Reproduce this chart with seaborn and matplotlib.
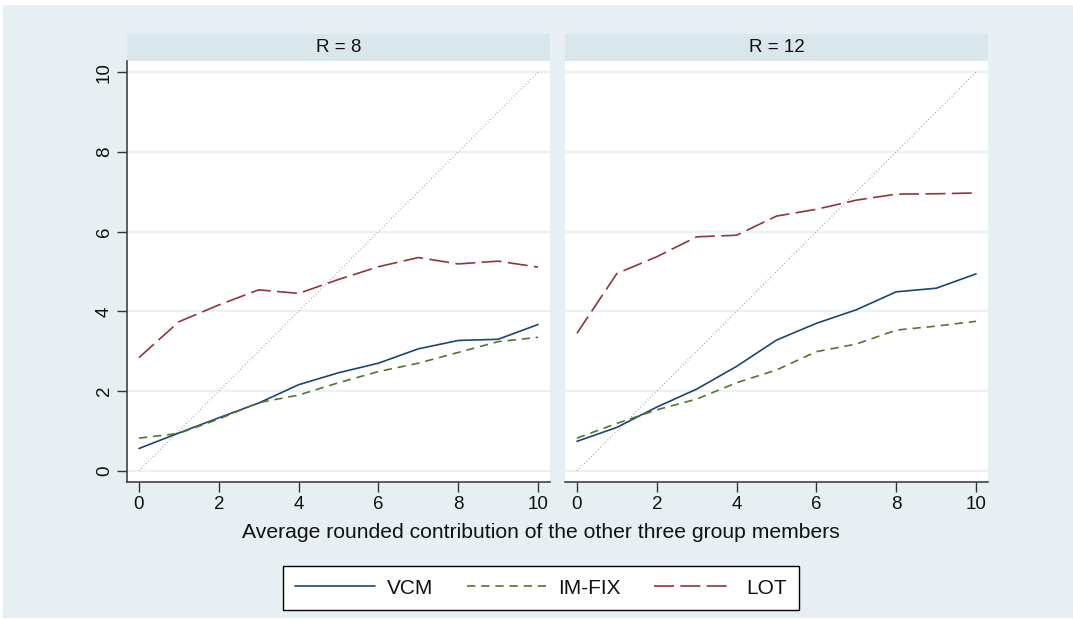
import numpy as np
import pandas as pd
import matplotlib
matplotlib.use("Agg")
import matplotlib.pyplot as plt
from matplotlib.patches import Rectangle
from matplotlib.lines import Line2D
import seaborn as sns

# ==============================
# DATA
# ==============================

contrib = [0, 1, 2, 3, 4, 5, 6, 7, 8, 9, 10]
panels = ["R = 8", "R = 12"]
treatments = ["VCM", "IM-FIX", "LOT"]

vcm_r8 = [0.56, 0.95, 1.33, 1.70, 2.16, 2.46, 2.70, 3.06, 3.27, 3.30, 3.67]
imfix_r8 = [0.82, 0.94, 1.30, 1.71, 1.90, 2.21, 2.49, 2.70, 2.97, 3.24, 3.35]
lot_r8 = [2.84, 3.74, 4.16, 4.54, 4.45, 4.80, 5.12, 5.35, 5.19, 5.26, 5.11]

vcm_r12 = [0.74, 1.09, 1.60, 2.05, 2.62, 3.28, 3.70, 4.04, 4.49, 4.58, 4.94]
imfix_r12 = [0.82, 1.19, 1.53, 1.80, 2.21, 2.53, 2.99, 3.18, 3.53, 3.63, 3.75]
lot_r12 = [3.45, 4.95, 5.37, 5.87, 5.91, 6.39, 6.56, 6.79, 6.94, 6.95, 6.97]

series = {
    "R = 8": {"VCM": vcm_r8, "IM-FIX": imfix_r8, "LOT": lot_r8},
    "R = 12": {"VCM": vcm_r12, "IM-FIX": imfix_r12, "LOT": lot_r12},
}

rows = []
for p in panels:
    for t in treatments:
        for x, y in zip(contrib, series[p][t]):
            rows.append({"panel": p, "treatment": t, "x": x, "y": y})
df = pd.DataFrame(rows)

# ==============================
# STYLE
# ==============================

sns.set_style("white")
plt.rcParams["font.family"] = ["Liberation Sans", "DejaVu Sans"]

palette = {"VCM": "#1a476f", "IM-FIX": "#55752f", "LOT": "#90353b"}
dashes = {"VCM": "", "IM-FIX": (5, 3.5), "LOT": (12, 3.8)}
bg = "#e8eff2"
strip = "#d9e6eb"
lw = 1.2

W, H = 1073, 619
fig = plt.figure(figsize=(W / 100, H / 100), dpi=100)
fig.patch.set_facecolor("white")
fig.patches.append(Rectangle((3 / W, 1 / H), 1 - 3 / W, (H - 6) / H,
                             transform=fig.transFigure, facecolor=bg,
                             edgecolor="none", zorder=-10))

ax_w = 423 / W
ax_h = 421 / H
ax_b = (H - 482) / H
lefts = [127 / W, 565 / W]

for i, p in enumerate(panels):
    ax = fig.add_axes([lefts[i], ax_b, ax_w, ax_h])
    d = df[df["panel"] == p]

    # 45 degree reference line
    ax.plot([0, 10], [0, 10], color="#777777", lw=0.8, ls=(0, (0.6, 2.4)), zorder=2)

    sns.lineplot(data=d, x="x", y="y", hue="treatment", style="treatment",
                 hue_order=treatments, style_order=treatments,
                 palette=palette, dashes=dashes, linewidth=lw,
                 legend=False, ax=ax, zorder=3)

    ax.set_xlim(-0.3, 10.3)
    ax.set_ylim(-0.28, 10.28)
    ax.set_xticks(range(0, 11, 2))
    ax.set_yticks(range(0, 11, 2))
    for yv in range(0, 11, 2):
        ax.axhline(yv, color="#eaf2f3", lw=1.6, zorder=1)
    ax.set_xlabel("")
    ax.set_ylabel("")
    ax.tick_params(axis="x", direction="out", length=7, width=1,
                   color="#333333", labelsize=13.5, labelcolor="#111111",
                   pad=3, bottom=True)
    for s in ["top", "right"]:
        ax.spines[s].set_visible(False)
    ax.spines["bottom"].set_color("#333333")
    ax.spines["bottom"].set_linewidth(1.1)
    if i == 0:
        ax.tick_params(axis="y", direction="out", length=7, width=1,
                       color="#333333", labelsize=13.5, labelcolor="#111111",
                       pad=3, left=True)
        for lab in ax.get_yticklabels():
            lab.set_rotation(90)
            lab.set_va("center")
        ax.spines["left"].set_color("#333333")
        ax.spines["left"].set_linewidth(1.1)
    else:
        ax.tick_params(axis="y", left=False, labelleft=False)
        ax.spines["left"].set_visible(False)

    # panel header strip
    x0 = lefts[i]
    fig.patches.append(Rectangle((x0, (H - 61) / H), ax_w, 27 / H,
                                 transform=fig.transFigure, facecolor=strip,
                                 edgecolor="none", zorder=-5))
    fig.text(x0 + ax_w / 2, (H - 47.5) / H, p, ha="center", va="center",
             fontsize=13.5, color="#111111")

fig.text(541 / W, (H - 532) / H,
         "Average rounded contribution of the other three group members",
         ha="center", va="center", fontsize=15.2, color="#111111")

handles = [Line2D([], [], color=palette[t], lw=lw,
                  ls="-" if t == "VCM" else (0, dashes[t]))
           for t in treatments]
leg = fig.legend(handles, treatments, loc="center", ncol=3,
                 bbox_to_anchor=(541 / W, (H - 588) / H),
                 frameon=True, fancybox=False, fontsize=15,
                 handlelength=3.8, columnspacing=1.6, handletextpad=0.6,
                 borderpad=0.6, borderaxespad=0)
leg.get_frame().set_edgecolor("black")
leg.get_frame().set_linewidth(1.0)
leg.get_frame().set_facecolor("white")
leg.get_frame().set_alpha(None)
for txt in leg.get_texts():
    txt.set_color("#111111")

plt.savefig("out.png", dpi=100, facecolor=fig.get_facecolor())
